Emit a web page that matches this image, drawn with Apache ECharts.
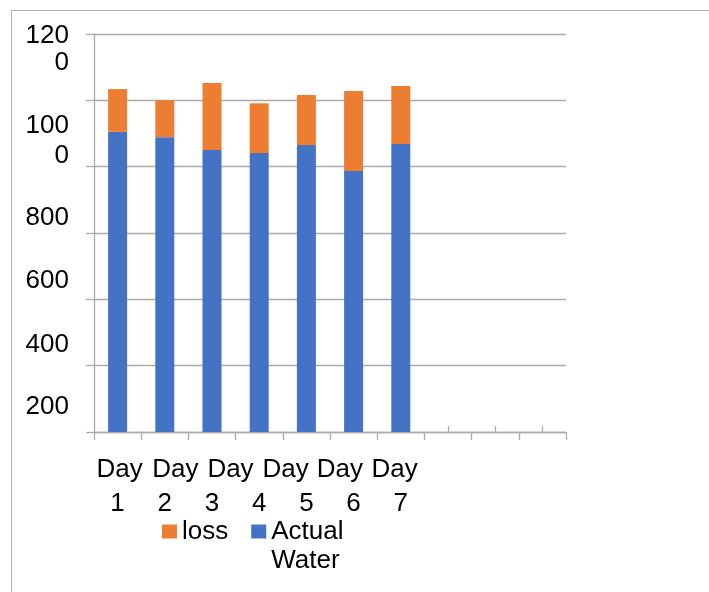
<!DOCTYPE html>
<html>
<head>
<meta charset="utf-8">
<script src="https://cdn.jsdelivr.net/npm/echarts@6/dist/echarts.min.js"></script>
<style>
  html, body { margin: 0; padding: 0; background: #ffffff; }
  #wrap { position: relative; width: 709px; height: 592px; overflow: hidden; }
  #frame { position: absolute; left: 11px; top: 10px; width: 900px; height: 900px;
           border-left: 1px solid #b3b3b3; border-top: 1px solid #b3b3b3; }
  #chart { position: absolute; left: 0; top: 0; width: 709px; height: 592px; }
</style>
</head>
<body>
<div id="wrap">
  <div id="frame"></div>
  <div id="chart"></div>
</div>
<script>
// ---- data ----
var categories = ['Day 1', 'Day 2', 'Day 3', 'Day 4', 'Day 5', 'Day 6', 'Day 7', '', ' ', '  '];
var actualWater = [905, 889, 850, 841, 865, 787, 868];
var loss = [129, 111, 202, 150, 151, 241, 175];
var yTickLabels = ['', '200', '400', '600', '800', '100\n0', '120\n0'];
var xWordLabels = ['Day', 'Day', 'Day', 'Day', 'Day', 'Day', ''];
var xNumLabels = ['1', '2', '3', '4', '5', '6', '7'];
var legendNames = ['loss', 'Actual Water'];
var legendLabels = ['loss', 'Actual\nWater'];

// ---- styling helpers (layout only) ----
var yPads = [[0,0,0,0],[82,0,0,0],[90,0,0,0],[96,0,0,0],[102,0,0,0],[80,0,4,0],[31,0,1,0]];
var yRich = { yn: {} };
yPads.forEach(function (p, i) { yRich['y' + i] = { padding: p }; });

var xShift = [2, 10.5, 18.5, 26.5, 33.5, 41, 0];
var xRich = { n: {} };
xShift.forEach(function (s, i) { xRich['d' + i] = { padding: [0, 0, 8, 2 * s] }; });

var FONT = "'Liberation Sans', Arial, sans-serif";
var GRID_COLOR = '#ababab';
var FS = 26;

var chart = echarts.init(document.getElementById('chart'), null, { renderer: 'canvas' });
chart.setOption({
  animation: false,
  textStyle: { fontFamily: FONT },
  grid: { left: 94, right: 143, top: 34, bottom: 160, containLabel: false },
  legend: {
    data: legendNames,
    left: 162,
    top: 519,
    padding: 0,
    icon: 'rect',
    itemWidth: 15,
    itemHeight: 14,
    itemGap: 23,
    formatter: function (name) {
      var lbl = legendLabels[legendNames.indexOf(name)];
      var lines = lbl.split('\n');
      return '{a|' + lines[0] + '}\n{b|' + (lines[1] || ' ') + '}';
    },
    textStyle: {
      fontSize: FS, color: '#000', fontFamily: FONT,
      rich: { a: { padding: [30, 0, 3, 0] }, b: {} }
    }
  },
  xAxis: [{
    type: 'category',
    data: categories,
    position: 'bottom',
    axisLine: { show: true, onZero: false, lineStyle: { color: GRID_COLOR, width: 1.3 } },
    axisTick: { show: true, inside: false, length: 8, alignWithLabel: false, lineStyle: { color: GRID_COLOR, width: 1.3 } },
    splitLine: { show: false },
    axisLabel: {
      interval: 0,
      margin: 25,
      fontSize: FS,
      color: '#000',
      fontFamily: FONT,
      rich: xRich,
      formatter: function (value, index) {
        if (index >= xNumLabels.length) return '';
        var w = xWordLabels[index] || ' ';
        return '{d' + index + '|' + w + '}\n{n|' + xNumLabels[index] + '}';
      }
    }
  }, {
    type: 'category',
    data: categories,
    position: 'bottom',
    axisLine: { show: false, onZero: false },
    axisTick: { show: true, inside: true, length: 6, alignWithLabel: true, lineStyle: { color: GRID_COLOR, width: 1.3 } },
    axisLabel: { show: false },
    splitLine: { show: false }
  }],
  yAxis: {
    type: 'value',
    min: 0,
    max: 1200,
    interval: 200,
    axisLine: { show: true, lineStyle: { color: GRID_COLOR, width: 1.3 } },
    axisTick: { show: true, inside: false, length: 8, lineStyle: { color: GRID_COLOR, width: 1.3 } },
    splitLine: { show: true, lineStyle: { color: GRID_COLOR, width: 1.3 } },
    axisLabel: {
      margin: 25,
      fontSize: FS,
      color: '#000',
      fontFamily: FONT,
      rich: yRich,
      formatter: function (value) {
        var i = Math.round(value / 200);
        var t = yTickLabels[i];
        if (!t) return '';
        var lines = t.split('\n');
        var out = '{y' + i + '|' + lines[0] + '}';
        for (var k = 1; k < lines.length; k++) out += '\n{yn|' + lines[k] + '}';
        return out;
      }
    }
  },
  series: [{
    name: 'Actual Water',
    type: 'bar',
    stack: 'total',
    barWidth: 19,
    xAxisIndex: 0,
    itemStyle: { color: '#4472C4' },
    data: actualWater
  }, {
    name: 'loss',
    type: 'bar',
    stack: 'total',
    barWidth: 19,
    xAxisIndex: 0,
    itemStyle: { color: '#ED7D31' },
    data: loss
  }]
});
</script>
</body>
</html>
